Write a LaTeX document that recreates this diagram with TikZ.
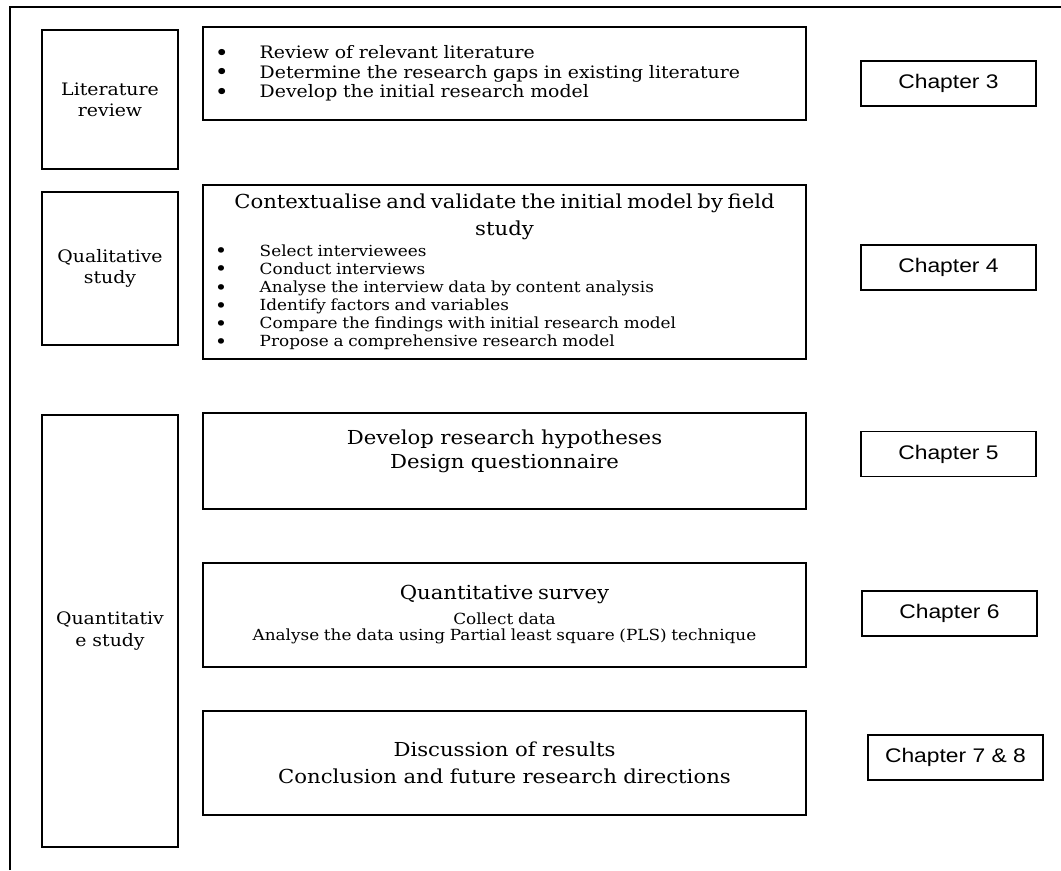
\documentclass[tikz,border=0pt]{standalone}
\usepackage{fontspec}
\setmainfont{DejaVu Serif}[FakeStretch=1.1]
\newfontfamily\chapfont{Liberation Sans}[FakeStretch=1.16]
\usetikzlibrary{positioning}
\setlength{\parindent}{0pt}
\newcommand{\bitem}[1]{\makebox[1.12cm][l]{\smash{\raisebox{-0.1em}{\scalebox{1.25}{\textbullet}}}}#1\par}
\newcommand{\bigtxt}{\fontsize{13.7}{19}\selectfont}
\newcommand{\midtxt}{\fontsize{12.2}{13.9}\selectfont}
\newcommand{\smltxt}{\fontsize{10.9}{12.9}\selectfont}

\begin{document}
\begin{tikzpicture}[x=0.025cm, y=-0.025cm, line width=1.2pt,
  phase/.style={draw, minimum width=3.4cm, align=center, font=\fontsize{12.2}{15}\selectfont},
  task/.style={draw, minimum width=15.075cm, inner sep=0pt, text width=14.475cm},
  chap/.style={draw, minimum width=4.375cm, minimum height=1.125cm, font=\chapfont\fontsize{14}{16}\selectfont}]
  \useasboundingbox (0,0) rectangle (1061,870);
  % outer frame
  \draw (10,870) -- (10,7) -- (1061,7);

  % phases
  \node[phase, minimum height=3.475cm] (litrev) at (110,99.5) {Literature\\review};
  \node[phase, minimum height=3.825cm] (qualstudy) at (110,268.5) {Qualitative\\study};
  \node[phase, minimum height=10.8cm] (quantstudy) at (110,631) {Quantitativ\\e study};

  % tasks
  \node[task, minimum height=2.325cm, align=left, font=\midtxt] (review) at (504.5,73.5) {%
    \bitem{Review of relevant literature}
    \bitem{Determine the research gaps in existing literature}
    \bitem{Develop the initial research model}};
  \node[task, minimum height=4.35cm, align=center] (field) at (504.5,272) {%
    {\bigtxt Contextualise and validate the initial model by field\\ study\par}
    \vspace{2pt}\raggedright\smltxt
    \bitem{Select interviewees}
    \bitem{Conduct interviews}
    \bitem{Analyse the interview data by content analysis}
    \bitem{Identify factors and variables}
    \bitem{Compare the findings with initial research model}
    \bitem{Propose a comprehensive research model}};
  \node[task, minimum height=2.4cm, align=center, font=\fontsize{13.7}{17}\selectfont] (hypo) at (504.5,461)
    {Develop research hypotheses\\ Design questionnaire\\ \mbox{}};
  \node[task, minimum height=2.6cm, align=center] (survey) at (504.5,615) {%
    {\bigtxt Quantitative survey\par}
    \vspace{3pt}\fontsize{10.9}{14.2}\selectfont
    Collect data\\ Analyse the data using Partial least square (PLS) technique};
  \node[task, minimum height=2.6cm, align=center, font=\bigtxt] (discuss) at (504.5,763)
    {Discussion of results\\ Conclusion and future research directions};

  % chapters
  \foreach \nm/\x/\y/\lbl in {ch3/948.5/83.5/Chapter 3, ch4/948.5/267.5/Chapter 4,
    ch5/948.5/454/Chapter 5, ch6/949.5/613.5/Chapter 6, ch78/955.5/757.5/Chapter 7 \& 8}
    \node[chap] (\nm) at (\x,\y) {\lbl};
\end{tikzpicture}
\end{document}
